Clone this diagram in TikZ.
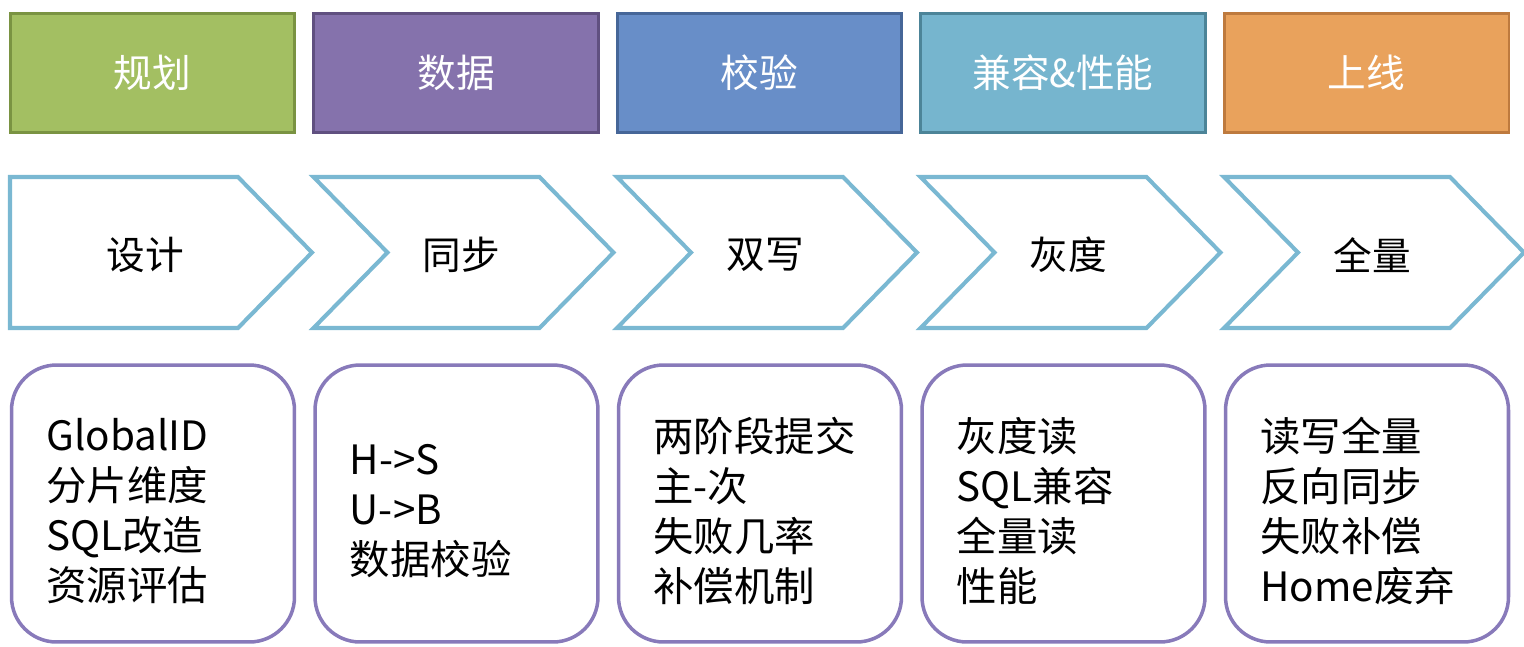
\documentclass[tikz,border=0pt]{standalone}
\usepackage{fontspec}
\setmainfont{Noto Sans CJK SC}
\usepackage{xcolor}

\definecolor{planfill}{RGB}{163,191,98}
\definecolor{planline}{RGB}{122,147,66}
\definecolor{datafill}{RGB}{133,114,172}
\definecolor{dataline}{RGB}{96,80,128}
\definecolor{checkfill}{RGB}{104,142,200}
\definecolor{checkline}{RGB}{70,102,152}
\definecolor{perffill}{RGB}{118,181,206}
\definecolor{perfline}{RGB}{76,132,152}
\definecolor{livefill}{RGB}{233,162,92}
\definecolor{liveline}{RGB}{190,122,62}
\definecolor{arrowline}{RGB}{122,184,210}
\definecolor{taskline}{RGB}{136,122,186}

\tikzset{
    headbox/.style={draw, line width=1.7pt, minimum width=5.7cm,
        minimum height=2.4cm, text=white, font=\fontsize{22}{26}\selectfont},
    arrowbox/.style={draw=arrowline, line width=2.3pt, fill=white,
        line join=miter},
    stagetext/.style={font=\fontsize{22}{26}\selectfont},
    taskbox/.style={draw=taskline, line width=2pt, rounded corners=0.9cm,
        minimum width=5.66cm, minimum height=5.54cm},
    tasktext/.style={anchor=west, align=left, inner sep=0pt,
        font=\fontsize{23}{28.45}\selectfont}
}

\begin{document}
\begin{tikzpicture}[x=0.02cm, y=-0.02cm]
    \useasboundingbox (0,0) rectangle (1524,646);

    \foreach \i/\fc/\lc/\head/\stage/\tasks in {
        0/planfill/planline/规划/设计/{GlobalID\\分片维度\\SQL改造\\资源评估},
        1/datafill/dataline/数据/同步/{H->S\\U->B\\数据校验},
        2/checkfill/checkline/校验/双写/{两阶段提交\\主-次\\失败几率\\补偿机制},
        3/perffill/perfline/{兼容\&性能}/灰度/{灰度读\\SQL兼容\\全量读\\性能},
        4/livefill/liveline/上线/全量/{读写全量\\反向同步\\失败补偿\\Home废弃}} {
            \pgfmathsetmacro{\x}{10 + \i * 303.5}

            % phase header
            \node[headbox, fill=\fc, draw=\lc] (head\i) at (\x + 142.5, 73)
                {\head};

            % chevron
            \ifnum\i=0
                \draw[arrowbox] (\x,177) -- (\x + 228,177) -- (\x + 302,252.5)
                    -- (\x + 228,328) -- (\x,328) -- cycle;
                \node[stagetext] (stage\i) at (\x + 135, 255) {\stage};
            \else
                \draw[arrowbox] (\x,177) -- (\x + 226,177) -- (\x + 300,252.5)
                    -- (\x + 226,328) -- (\x,328) -- (\x + 74,252.5) -- cycle;
                \node[stagetext] (stage\i) at (\x + 148, 255) {\stage};
            \fi

            % task list
            \node[taskbox] (box\i) at (\x + 143, 503.5) {};
            \node[tasktext] (task\i) at (\x + 36, 511) {\tasks};
        }

\end{tikzpicture}
\end{document}
